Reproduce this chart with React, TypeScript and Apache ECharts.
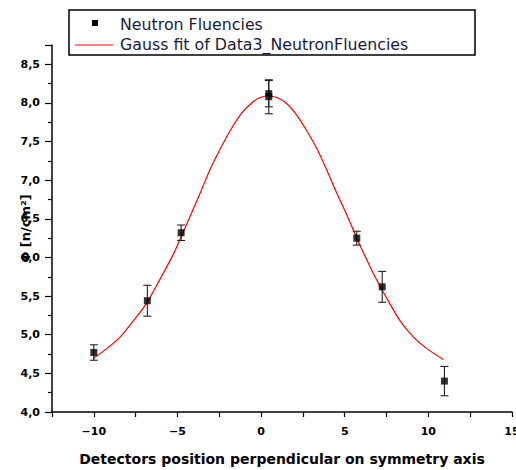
import React, { useEffect, useRef } from "react";
import * as echarts from "echarts";

// Measured data (detector position, fluence, error)
const positions = [-10.0, -6.8, -4.78, 0.46, 0.46, 5.72, 7.24, 10.96];
const fluences = [4.77, 5.44, 6.32, 8.08, 8.12, 6.25, 5.62, 4.4];
const errors = [0.1, 0.2, 0.1, 0.22, 0.17, 0.09, 0.2, 0.19];

// Gauss fit curve
const fitX = [-10.05, -9.23, -8.43, -7.64, -6.84, -6.04, -5.25, -4.65, -4.05, -3.55, -3.05, -2.45, -1.85, -1.15, -0.56, -0.06, 0.44, 0.94, 1.54, 2.14, 2.73, 3.33, 3.93, 4.53, 5.13, 5.72, 6.72, 7.52, 8.31, 9.11, 9.91, 10.9];
const fitY = [4.69, 4.82, 4.97, 5.18, 5.41, 5.72, 6.04, 6.33, 6.63, 6.88, 7.14, 7.40, 7.64, 7.87, 8.00, 8.07, 8.09, 8.07, 7.99, 7.84, 7.64, 7.41, 7.13, 6.83, 6.55, 6.25, 5.79, 5.47, 5.18, 4.97, 4.82, 4.68];

const seriesNames = ["Neutron Fluencies", "Gauss fit of Data3_NeutronFluencies"];
const xName = "Detectors position perpendicular on symmetry axis";
const yName = "Φ [n/cm²]";

const FONT = "'DejaVu Sans', Arial, sans-serif";

export default function App() {
  const ref = useRef<HTMLDivElement>(null);
  useEffect(() => {
    if (!ref.current) return;
    const chart = echarts.init(ref.current, null, { renderer: "svg" });
    const pts = positions.map((x, i) => [x, fluences[i], errors[i]]);
    const fit = fitX.map((x, i) => [x, fitY[i]]);
    const fmt = (v: number) => {
      const r = Math.round(v * 100) / 100;
      return r.toFixed(1).replace(".", ",");
    };
    chart.setOption({
      animation: false,
      backgroundColor: "#ffffff",
      grid: { left: 52, right: 4, top: 45, bottom: 58, containLabel: false, outerBoundsMode: "none" },
      xAxis: {
        type: "value",
        min: -12.5,
        max: 15,
        interval: 2.5,
        name: xName,
        nameLocation: "middle",
        nameGap: 40,
        nameMoveOverlap: false,
        nameTextStyle: { fontFamily: FONT, fontWeight: "bold", fontSize: 14, color: "#000" },
        axisLine: { show: true, onZero: false, lineStyle: { color: "#000", width: 1.5 } },
        axisTick: { show: true, inside: false, length: 5, lineStyle: { color: "#000", width: 1.2 } },
        axisLabel: {
          margin: 14,
          fontFamily: FONT,
          fontWeight: "bold",
          fontSize: 11,
          color: "#000",
          hideOverlap: false,
          formatter: (v: number) => (Math.abs(v % 5) < 1e-9 ? String(v).replace("-", "−") : ""),
        },
        splitLine: { show: false },
      },
      yAxis: {
        type: "value",
        min: 4,
        max: 8.75,
        interval: 0.5,
        name: yName,
        nameLocation: "middle",
        nameGap: 20,
        nameRotate: 90,
        nameMoveOverlap: false,
        nameTextStyle: { fontFamily: FONT, fontWeight: "bold", fontSize: 13, color: "#000" },
        axisLine: { show: true, onZero: false, lineStyle: { color: "#000", width: 1.5 } },
        axisTick: { show: true, inside: false, length: 7, lineStyle: { color: "#000", width: 1.2 } },
        minorTick: { show: true, splitNumber: 2, length: 4, lineStyle: { color: "#000", width: 1.2 } },
        axisLabel: {
          margin: 12,
          fontFamily: FONT,
          fontWeight: "bold",
          fontSize: 11,
          color: "#000",
          formatter: (v: number) => (Math.abs((v * 2) % 1) < 1e-9 ? fmt(v) : ""),
        },
        splitLine: { show: false },
      },
      series: [
        {
          name: seriesNames[1],
          type: "line",
          data: fit,
          smooth: 0.3,
          showSymbol: false,
          lineStyle: { color: "#ff0000", width: 1.2 },
          z: 2,
        },
        {
          name: "errors",
          type: "custom",
          data: pts,
          z: 3,
          renderItem: (params: any, api: any) => {
            const x = api.value(0);
            const y = api.value(1);
            const e = api.value(2);
            const top = api.coord([x, y + e]);
            const bot = api.coord([x, y - e]);
            const cw = 4;
            const st = { stroke: "#222", lineWidth: 1.1 };
            return {
              type: "group",
              children: [
                { type: "line", shape: { x1: top[0], y1: top[1], x2: bot[0], y2: bot[1] }, style: st },
                { type: "line", shape: { x1: top[0] - cw, y1: top[1], x2: top[0] + cw, y2: top[1] }, style: st },
                { type: "line", shape: { x1: bot[0] - cw, y1: bot[1], x2: bot[0] + cw, y2: bot[1] }, style: st },
              ],
            };
          },
        },
        {
          name: seriesNames[0],
          type: "scatter",
          data: pts.map((p) => [p[0], p[1]]),
          symbol: "rect",
          symbolSize: 7,
          itemStyle: { color: "#000" },
          z: 4,
        },
      ],
      graphic: [
        {
          type: "rect",
          shape: { x: 69, y: 10, width: 406, height: 45 },
          style: { fill: "#fff", stroke: "#000", lineWidth: 1.5 },
          z: 10,
        },
        {
          type: "rect",
          shape: { x: 92, y: 20, width: 6, height: 6 },
          style: { fill: "#000" },
          z: 11,
        },
        {
          type: "text",
          x: 120,
          y: 24,
          style: { text: seriesNames[0], fontFamily: FONT, fontSize: 15.8, fill: "#1a1a3a", verticalAlign: "middle" },
          z: 11,
        },
        {
          type: "line",
          shape: { x1: 75, y1: 45, x2: 113, y2: 45 },
          style: { stroke: "#ff0000", lineWidth: 1.2 },
          z: 11,
        },
        {
          type: "text",
          x: 120,
          y: 44,
          style: { text: seriesNames[1], fontFamily: FONT, fontSize: 15.8, fill: "#1a1a3a", verticalAlign: "middle" },
          z: 11,
        },
      ],
    });
    return () => chart.dispose();
  }, []);
  return (
    <div
      ref={ref}
      style={{ position: "fixed", left: 0, top: 0, width: 516, height: 470, background: "#fff" }}
    />
  );
}
